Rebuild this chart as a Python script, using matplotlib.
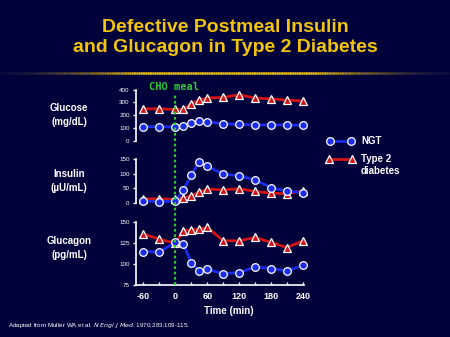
import matplotlib.pyplot as plt
import numpy as np
from matplotlib.collections import LineCollection
from matplotlib.ticker import MultipleLocator

# Time points (min) relative to the CHO meal
time_min = [-60, -30, 0, 15, 30, 45, 60, 90, 120, 150, 180, 210, 240]

glucose_ngt = [110, 110, 108, 115, 138, 152, 150, 133, 128, 124, 124, 124, 120]
glucose_t2d = [250, 250, 245, 245, 290, 320, 335, 340, 360, 335, 328, 318, 312]

insulin_ngt = [8, 5, 8, 45, 94, 140, 125, 98, 93, 78, 53, 41, 36]
insulin_t2d = [15, 15, 13, 19, 25, 38, 48, 45, 49, 40, 34, 32, 42]

glucagon_ngt = [115, 115, 126, 124, 102, 92, 94, 89, 90, 97, 95, 92, 99]
glucagon_t2d = [136, 130, 125, 140, 141, 142, 144, 128, 128, 132, 126, 120, 128]

panel_labels = ["Glucose\n(mg/dL)", "Insulin\n(\u00b5U/mL)", "Glucagon\n(pg/mL)"]
panel_ticks = [[0, 100, 200, 300, 400], [0, 50, 100, 150], [75, 100, 125, 150]]
panel_ylims = [(0, 400), (0, 150), (75, 150)]
x_ticks = [-60, 0, 60, 120, 180, 240]

bg = "#00003a"
blue = "#1a2cf0"
red = "#d41414"
green = "#2ecc2e"
gold = "#f2c40c"

plt.rcParams["font.family"] = ["Liberation Sans", "DejaVu Sans"]
plt.rcParams["axes.unicode_minus"] = False

fig = plt.figure(figsize=(4.5, 3.37), dpi=100, facecolor=bg)

W, H = 450.0, 337.0
x_lo, x_hi = -74, 241
ax_left = 136 / W
ax_width = (303.5 - 136) / W

# panel pixel extents (y of lowest tick, y of highest tick)
panel_px = [(140.7, 89.7), (203.3, 158.7), (285.3, 222.3)]
label_y = [115, 181, 248]

series = [(glucose_ngt, glucose_t2d), (insulin_ngt, insulin_t2d), (glucagon_ngt, glucagon_t2d)]

for i, (ngt, t2d) in enumerate(series):
    y0, y1 = panel_px[i]
    ax = fig.add_axes([ax_left, 1 - y0 / H, ax_width, (y0 - y1) / H])
    ax.set_facecolor("none")
    ax.plot(time_min, t2d, color=red, lw=2, marker="^", ms=6, mfc=red,
            mec="white", mew=0.9, clip_on=False, zorder=3)
    ax.plot(time_min, ngt, color=blue, lw=2, marker="o", ms=5.5, mfc=blue,
            mec="white", mew=0.9, clip_on=False, zorder=4)
    ax.set_xlim(x_lo, x_hi)
    ax.set_ylim(*panel_ylims[i])
    ax.set_yticks(panel_ticks[i])
    for s in ["top", "right"]:
        ax.spines[s].set_visible(False)
    ax.spines["left"].set_color("white")
    ax.spines["left"].set_linewidth(1.2)
    ax.tick_params(axis="y", colors="white", labelsize=4.5, length=2.5,
                   width=1, pad=2)
    if i < 2:
        ax.spines["bottom"].set_visible(False)
        ax.set_xticks([])
    else:
        ax.spines["bottom"].set_color("white")
        ax.spines["bottom"].set_linewidth(1.2)
        ax.set_xticks(x_ticks)
        ax.xaxis.set_minor_locator(MultipleLocator(30))
        ax.tick_params(axis="x", which="both", direction="in", colors="white",
                       length=2.5, width=1, labelsize=6.5, pad=5)
        for t in ax.get_xticklabels():
            t.set_fontweight("bold")
    fig.text(69 / W, 1 - label_y[i] / H, panel_labels[i], color="white",
             fontsize=7, fontweight="bold", ha="center", va="center",
             linespacing=1.5)

# green dotted meal line across all panels
ov = fig.add_axes([ax_left, 1 - 285.3 / H, ax_width, (285.3 - 94) / H])
ov.set_xlim(x_lo, x_hi)
ov.set_ylim(0, 1)
ov.axis("off")
ov.axvline(0, color=green, lw=1.6, ls=(0, (1.2, 1.2)), zorder=1)
fig.text(174 / W, 1 - 87 / H, "CHO meal", color=green, fontsize=7.5,
         fontweight="bold", family="DejaVu Sans Mono", ha="center", va="center")

# legend
fig.lines.append(plt.Line2D([330 / W, 351 / W], [1 - 140.5 / H] * 2, color=blue,
                            lw=2, marker="o", ms=5.5, mfc=blue, mec="white",
                            mew=0.9, transform=fig.transFigure))
fig.lines.append(plt.Line2D([329 / W, 352 / W], [1 - 158.5 / H] * 2, color=red,
                            lw=2, marker="^", ms=6, mfc=red, mec="white",
                            mew=0.9, transform=fig.transFigure))
fig.text(361 / W, 1 - 140.5 / H, "NGT", color="white", fontsize=7,
         fontweight="bold", va="center")
fig.text(361 / W, 1 - 165 / H, "Type 2\ndiabetes", color="white", fontsize=7,
         fontweight="bold", va="center", linespacing=1.2)

# title and gradient rule
fig.text(0.5, 1 - 27 / H, "Defective Postmeal Insulin", color=gold,
         fontsize=14, fontweight="bold", ha="center", va="center")
fig.text(0.5, 1 - 48 / H, "and Glucagon in Type 2 Diabetes", color=gold,
         fontsize=14, fontweight="bold", ha="center", va="center")

xs = np.linspace(0, 1, 200)
segs = [[(xs[k], 1 - 72.5 / H), (xs[k + 1], 1 - 72.5 / H)] for k in range(len(xs) - 1)]
fade = np.clip((1 - np.abs(xs[:-1] - 0.5) * 2) * 1.6, 0, 1) ** 1.5
cols = [(0.05 + 0.9 * f, 0.05 + 0.72 * f, 0.25 - 0.2 * f, 1) for f in fade]
fig.add_artist(LineCollection(segs, colors=cols, lw=1.8, transform=fig.transFigure))

# axis title and source
fig.text(229 / W, 1 - 311 / H, "Time (min)", color="white", fontsize=7,
         fontweight="bold", ha="center", va="center")
fig.text(8 / W, 1 - 326 / H,
         "Adapted from Muller WA et al. $\\it{N\\ Engl\\ J\\ Med}$. 1970;283:109-115.",
         color="white", fontsize=4.5, va="center")

fig.savefig("out.png", dpi=100, facecolor=bg)
